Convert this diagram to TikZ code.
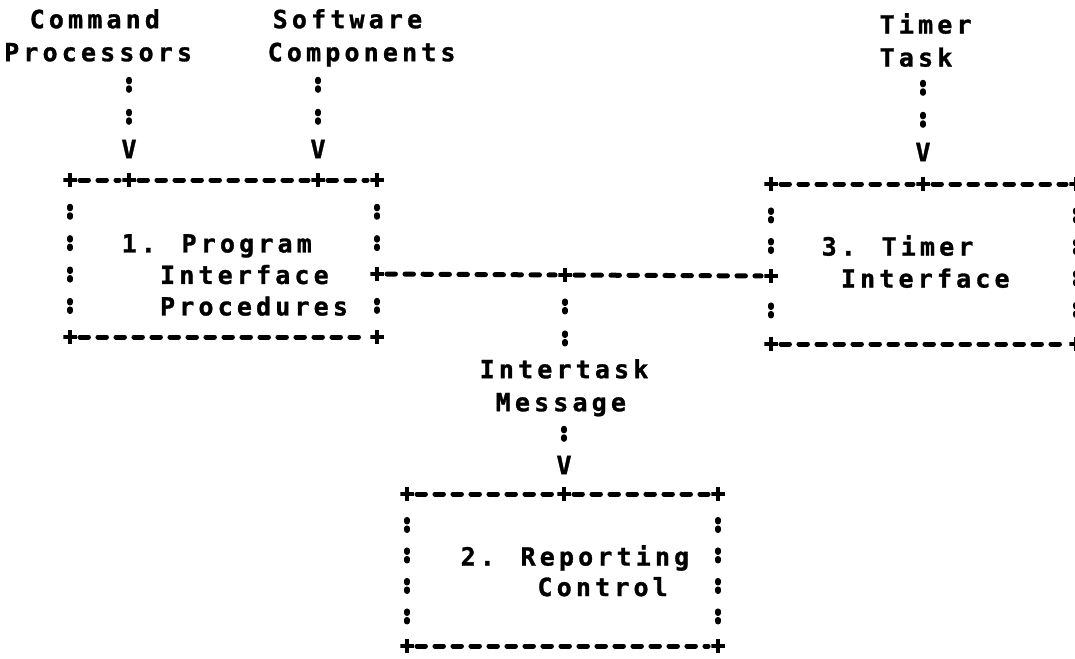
\documentclass[tikz,border=0pt]{standalone}
\usepackage{fontspec}
\newfontfamily\mono{DejaVu Sans Mono}[LetterSpace=16.6, BoldFeatures={FakeBold=1.2}]
\begin{document}
\begin{tikzpicture}[x=1pt,y=-1pt,
  txt/.style={font=\mono\bfseries\fontsize{25pt}{#1pt}\selectfont,
    inner sep=0pt, align=left, anchor=north west},
  vmark/.style={font=\mono\bfseries\fontsize{25pt}{30pt}\selectfont,
    inner sep=0pt, text height=18.2pt, text depth=0pt},
  plus/.style={rectangle, inner sep=0pt, minimum size=13.5pt,
    path picture={\draw[line width=4.5pt]
      (path picture bounding box.west) -- (path picture bounding box.east)
      (path picture bounding box.north) -- (path picture bounding box.south);}},
  hdash/.style={line width=5pt, line cap=round, dash pattern=on 8.5pt off 9.5pt,
    shorten <=3pt, shorten >=3pt},
  colons/.style 2 args={line width=5.5pt, line cap=round,
    dash pattern=on 2pt off 6.5pt on 2pt off #1pt, dash phase=#2pt},
]
\path[use as bounding box, fill=white] (0,0) rectangle (1075,658);

% sources at the top
\node[txt=33] (cp) at (4,9) {\hspace*{25.5pt}Command\\Processors};
\node[txt=33] (sc) at (267.5,9) {\hspace*{5pt}Software\\Components};
\node[txt=33] (tt) at (879.5,13) {Timer\\Task};

\node[vmark] (v1) at (129,149) {V};
\node[vmark] (v2) at (318,149) {V};
\node[vmark] (v3) at (923,152) {V};

% box 1
\node[plus] (p1tl) at (70,180) {};
\node[plus] (p1a)  at (129,180) {};
\node[plus] (p1b)  at (318,180) {};
\node[plus] (p1tr) at (377,180) {};
\node[plus] (p1r)  at (377,274) {};
\node[plus] (p1bl) at (70,337) {};
\node[plus] (p1br) at (377,337) {};
\node[txt=31.5] (b1) at (121.5,234)
  {1. Program\\\hspace*{38.4pt}Interface\\\hspace*{38.4pt}Procedures};

% box 3
\node[plus] (p3tl) at (771,184) {};
\node[plus] (p3a)  at (923,184) {};
\node[plus] (p3tr) at (1076,184) {};
\node[plus] (p3l)  at (771,276) {};
\node[plus] (p3bl) at (771,344) {};
\node[plus] (p3br) at (1076,344) {};
\node[txt=32] (b3) at (821.5,235) {3. Timer\\\hspace*{19.2pt}Interface};

% junction and message label
\node[plus] (pm) at (565,275) {};
\node[txt=33] (it) at (479.5,359) {Intertask\\\hspace*{16pt}Message};
\node[vmark] (v4) at (564,465) {V};

% box 2
\node[plus] (p2tl) at (407,494) {};
\node[plus] (p2a)  at (564,494) {};
\node[plus] (p2tr) at (718,494) {};
\node[plus] (p2bl) at (407,646) {};
\node[plus] (p2br) at (718,646) {};
\node[txt=30.5] (b2) at (460.5,545) {2. Reporting\\\hspace*{76.8pt}Control};

% incoming flows
\draw[colons={21.5}{14.35}] (v1.north) -- (v1.north |- cp.south);
\draw[colons={21.5}{14.35}] (v2.north) -- (v2.north |- sc.south);
\draw[colons={21.5}{14.35}] (v3.north) -- (v3.north |- tt.south);

% box 1 outline
\draw[hdash] (p1tl) -- (p1a);
\draw[hdash] (p1a) -- (p1b);
\draw[hdash] (p1b) -- (p1tr);
\draw[hdash] (p1bl) -- (p1br);
\draw[colons={20.9}{11.85}] (p1tl) -- (p1bl);
\draw[colons={20.9}{11.85}] (p1tr) -- (p1r);
\draw[colons={20.9}{11.75}] (p1r) -- (p1br);

% link between boxes 1 and 3
\draw[hdash] (p1r) -- (pm);
\draw[hdash] (pm) -- (p3l);

% box 3 outline
\draw[hdash] (p3tl) -- (p3a);
\draw[hdash] (p3a) -- (p3tr);
\draw[hdash] (p3bl) -- (p3br);
\draw[colons={20}{11.25}] (p3tl) -- (p3l);
\draw[colons={23.5}{11.75}] (p3l) -- (p3bl);
\draw[colons={21}{12.25}, shorten >=3pt] (p3tr) -- (p3br);

% intertask message down to box 2
\draw[colons={21.5}{12.75}] (pm.south) -- (pm.south |- it.north);
\draw[colons={21.5}{15.35}] (v4.north) -- (v4.north |- it.south);

% box 2 outline
\draw[hdash] (p2tl) -- (p2a);
\draw[hdash] (p2a) -- (p2tr);
\draw[hdash] (p2bl) -- (p2br);
\draw[colons={20}{11.75}] (p2tl) -- (p2bl);
\draw[colons={20}{11.75}] (p2tr) -- (p2br);
\end{tikzpicture}
\end{document}
